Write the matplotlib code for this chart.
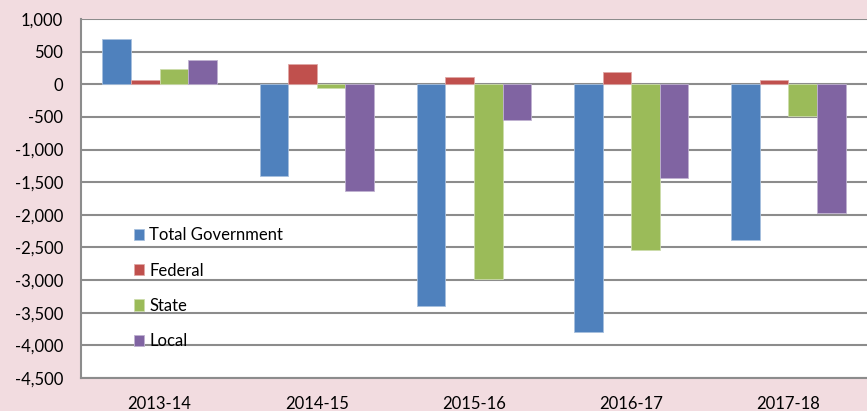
import matplotlib
matplotlib.use("Agg")
import matplotlib.pyplot as plt
import numpy as np

categories = ["2013-14", "2014-15", "2015-16", "2016-17", "2017-18"]
series_names = ["Total Government", "Federal", "State", "Local"]
total_gov = [700, -1410, -3400, -3800, -2380]
federal = [70, 310, 115, 185, 65]
state = [230, -60, -2980, -2540, -490]
local = [370, -1630, -540, -1430, -1970]
y_ticks = [1000, 500, 0, -500, -1000, -1500, -2000, -2500, -3000, -3500, -4000, -4500]

colors = ["#4F81BD", "#C0504D", "#9BBB59", "#8064A2"]
edge_colors = ["#A7C0DE", "#E0A8A6", "#CDDDAC", "#BFB1D0"]

plt.rcParams['font.family'] = ['Lato', 'DejaVu Sans']

fig = plt.figure(figsize=(8.67, 4.11), dpi=100)
fig.patch.set_facecolor("#F2DCE0")
ax = fig.add_axes([81/867, 33/411, 786/867, 359/411])
ax.set_facecolor("white")

x = np.arange(len(categories))
w = 0.182
data = [total_gov, federal, state, local]
for i, (vals, name) in enumerate(zip(data, series_names)):
    ax.bar(x + (i - 1.5) * w, vals, width=w, color=colors[i], edgecolor=edge_colors[i],
           linewidth=0.6, label=name, zorder=3)

ax.set_xlim(-0.5, 4.5)
ax.set_ylim(-4500, 1000)
ax.set_yticks(y_ticks)
ax.set_yticklabels([f"{v:,}" for v in y_ticks])
ax.set_xticks(x)
ax.set_xticklabels(categories)
ax.tick_params(axis='both', length=0, labelsize=12, colors='black')
ax.tick_params(axis='y', pad=13)
ax.tick_params(axis='x', pad=13)

ax.grid(axis='y', color='#8C8C8C', linewidth=1.5, zorder=0)
for s in ['top', 'right']:
    ax.spines[s].set_visible(False)
for s in ['left', 'bottom']:
    ax.spines[s].set_color('#8C8C8C')
    ax.spines[s].set_linewidth(1.5)

leg = ax.legend(loc='upper left', bbox_to_anchor=(0.067, 0.42), frameon=False,
                fontsize=12, handlelength=0.65, handleheight=0.65, handletextpad=0.3,
                labelspacing=1.16, borderpad=0, borderaxespad=0)

fig.savefig("out.png", dpi=100, facecolor=fig.get_facecolor())
